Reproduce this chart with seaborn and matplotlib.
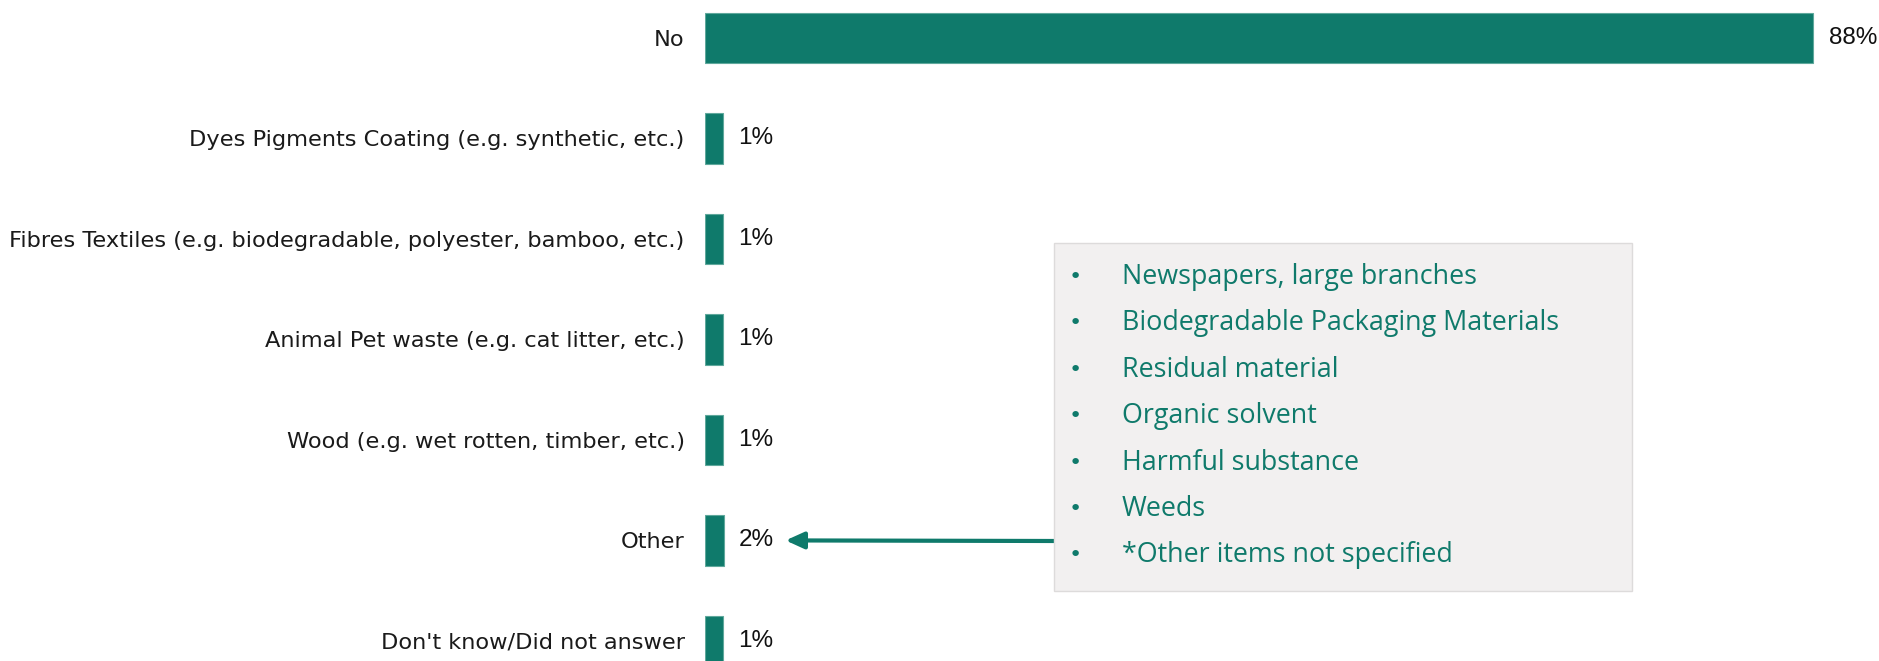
import pandas as pd
import matplotlib.pyplot as plt
import seaborn as sns
from matplotlib.patches import FancyBboxPatch

# data
categories = ["No",
              "Dyes Pigments Coating (e.g. synthetic, etc.)",
              "Fibres Textiles (e.g. biodegradable, polyester, bamboo, etc.)",
              "Animal Pet waste (e.g. cat litter, etc.)",
              "Wood (e.g. wet rotten, timber, etc.)",
              "Other",
              "Don't know/Did not answer"]
values = [88, 1.4, 1.4, 1.4, 1.4, 1.5, 1.4]
value_labels = ["88%", "1%", "1%", "1%", "1%", "2%", "1%"]
other_items = ["Newspapers, large branches",
               "Biodegradable Packaging Materials",
               "Residual material",
               "Organic solvent",
               "Harmful substance",
               "Weeds",
               "*Other items not specified"]

teal = "#0F7A6B"
df = pd.DataFrame({"Category": categories, "Share": values})

sns.set_style("white")
fig = plt.figure(figsize=(18.79, 6.61), dpi=100)
ax = fig.add_axes([705 / 1879, 0, (1879 - 705) / 1879, 1])
sns.barplot(data=df, y="Category", x="Share", color=teal, saturation=1,
            width=0.5, edgecolor="#5FA89C", linewidth=0.8, ax=ax)

ax.set_xlim(0, 93.2)
ax.set_ylim(6.2, -0.378)
sns.despine(ax=ax, left=True, bottom=True)
ax.set_xticks([])
ax.set_xlabel("")
ax.set_ylabel("")
ax.tick_params(axis="y", length=0, pad=14.5)
for lab in ax.get_yticklabels():
    lab.set_fontsize(16.2)
    lab.set_color("#1a1a1a")
    lab.set_family("DejaVu Sans")

ax.bar_label(ax.containers[0], labels=value_labels, padding=11,
             fontsize=17.5, family="Liberation Sans", color="#111111")

# callout box with the "Other" items
box = FancyBboxPatch((1054 / 1879, 1 - 591 / 661), (1632 - 1054) / 1879, (591 - 243) / 661,
                     boxstyle="square,pad=0", transform=fig.transFigure,
                     facecolor="#F2F0F0", edgecolor="#DDDBDB", linewidth=1, zorder=2)
fig.patches.append(box)
for i, item in enumerate(other_items):
    yp = 1 - (277 + i * 46.4) / 661
    fig.text(1075 / 1879, yp, "\u2022", color=teal, fontsize=16, va="center",
             ha="center", family="DejaVu Sans")
    fig.text(1122 / 1879, yp, item, color=teal, fontsize=19.4, va="center",
             ha="left", family="Open Sans")

# arrow from box to the "Other" bar
ax.annotate("", xy=(6.4, 5), xycoords="data",
            xytext=(1054 / 1879, 1 - 541 / 661), textcoords="figure fraction",
            arrowprops=dict(arrowstyle="-|>,head_length=1.1,head_width=0.5",
                            color=teal, lw=3, shrinkA=0, shrinkB=0))

fig.savefig("out.png", dpi=100)
